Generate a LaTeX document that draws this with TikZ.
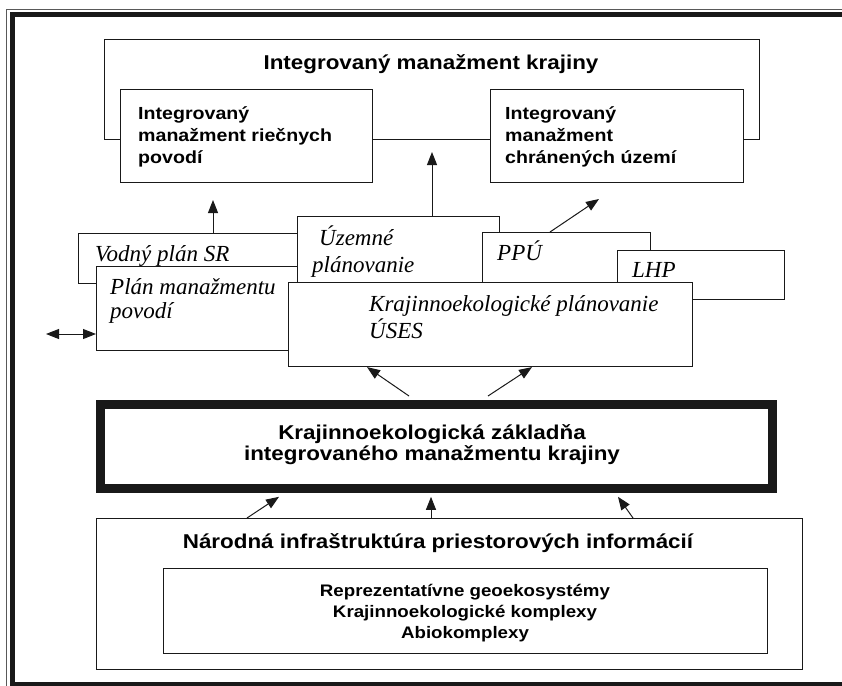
\documentclass[tikz,border=0pt]{standalone}
\usepackage{fontspec}
\setmainfont{Liberation Serif}
\newfontfamily\ssf[FakeStretch=1.12,BoldFont={Liberation Sans Bold}]{Liberation Sans}
\usetikzlibrary{arrows.meta}
\begin{document}
\begin{tikzpicture}[x=1pt,y=-1pt,
  box/.style={draw=black!90, line width=1.1pt, fill=white, inner sep=0pt, anchor=north west},
  st/.style={inner sep=0pt, font=\ssf\bfseries\fontsize{20}{22}\selectfont},
  sti/.style={inner sep=0pt, font=\ssf\bfseries\fontsize{17.5}{22}\selectfont, anchor=base west},
  sts/.style={inner sep=0pt, font=\ssf\bfseries\fontsize{16.7}{20}\selectfont, anchor=base},
  it/.style={inner sep=0pt, font=\itshape\fontsize{23}{27}\selectfont, anchor=base west},
  arr/.style={-{Triangle[length=13pt,width=10pt]}, line width=1pt, black!90},
  arrb/.style={{Triangle[length=13pt,width=10pt]}-{Triangle[length=13pt,width=10pt]}, line width=1pt, black!90}]
\useasboundingbox (0,0) rectangle (842,685);
% frame
\draw[line width=1.2pt, black!65] (6.5,686) -- (6.5,9.5) -- (843,9.5);
\draw[line width=5pt, black!90] (12.5,686) -- (12.5,14.5) -- (843,14.5);
\draw[line width=4pt, black!90] (10,684) -- (843,684);
% top boxes
\node[box, minimum width=655pt, minimum height=100pt] (imk) at (104,39) {};
\node[st, anchor=base] (timk) at (431,69) {Integrovaný manažment krajiny};
\node[box, minimum width=252pt, minimum height=93pt] (imr) at (120,89) {};
\node[box, minimum width=253pt, minimum height=93pt] (imc) at (490,89) {};
\node[sti] (r1) at (138,119) {Integrovaný};
\node[sti] (r2) at (138,141) {manažment riečnych};
\node[sti] (r3) at (138,163) {povodí};
\node[sti] (c1) at (505,119) {Integrovaný};
\node[sti] (c2) at (505,141) {manažment};
\node[sti] (c3) at (505,163) {chránených území};
% middle layer
\node[box, minimum width=260pt, minimum height=50pt] (vod) at (78,233) {};
\node[it] (tvod) at (95,261) {Vodný plán SR};
\node[box, minimum width=230pt, minimum height=84pt] (plan) at (96,266) {};
\node[it] (tplan1) at (110,294) {Plán manažmentu};
\node[it] (tplan2) at (110,318) {povodí};
\node[box, minimum width=202pt, minimum height=90pt] (uze) at (297,216) {};
\node[it] (tuze1) at (319,245) {Územné};
\node[it] (tuze2) at (312,272) {plánovanie};
\node[box, minimum width=168pt, minimum height=80pt] (ppu) at (482,232) {};
\node[it] (tppu) at (497,260) {PPÚ};
\node[box, minimum width=167pt, minimum height=49pt] (lhp) at (617,250) {};
\node[it] (tlhp) at (632,277) {LHP};
\node[box, minimum width=404pt, minimum height=84pt] (kraj) at (288,282) {};
\node[it] (tkraj1) at (369,311) {Krajinnoekologické plánovanie};
\node[it] (tkraj2) at (369,338) {ÚSES};
% base box
\node[box, draw=black!90, line width=8.5pt, minimum width=672pt, minimum height=84pt] (kz) at (96,400) {};
\node[st, anchor=base] (tkz1) at (432,439) {Krajinnoekologická základňa};
\node[st, anchor=base] (tkz2) at (432,460) {integrovaného manažmentu krajiny};
% bottom box
\node[box, minimum width=706pt, minimum height=151pt] (nar) at (96,518) {};
\node[st, anchor=base] (tnar) at (438,548) {Národná infraštruktúra priestorových informácií};
\node[box, minimum width=604pt, minimum height=85pt] (geo) at (163,568) {};
\node[sts] (g1) at (465,596) {Reprezentatívne geoekosystémy};
\node[sts] (g2) at (465,617) {Krajinnoekologické komplexy};
\node[sts] (g3) at (465,638) {Abiokomplexy};
% connectors
\coordinate (t0) at (432,152);
\coordinate (t1) at (213,200);
\coordinate (t2) at (599,199);
\coordinate (t3) at (46,334);
\draw[arr] (uze.north west -| t0) -- (t0);
\draw[arr] (vod.north west -| t1) -- (t1);
\draw[arr] ([xshift=68pt]ppu.north west) -- (t2);
\draw[arrb] (t3) -- (plan.west |- t3);
\draw[arr] ([xshift=313pt,yshift=4pt]kz.north west) -- ([xshift=79pt]kraj.south west);
\draw[arr] ([xshift=392pt,yshift=4pt]kz.north west) -- ([xshift=244pt]kraj.south west);
\draw[arr] ([xshift=151pt]nar.north west) -- ([xshift=183pt,yshift=-4.3pt]kz.south west);
\draw[arr] ([xshift=335pt]nar.north west) -- ([xshift=335pt,yshift=-4.3pt]kz.south west);
\draw[arr] ([xshift=537pt]nar.north west) -- ([xshift=522pt,yshift=-4.3pt]kz.south west);
\end{tikzpicture}
\end{document}
